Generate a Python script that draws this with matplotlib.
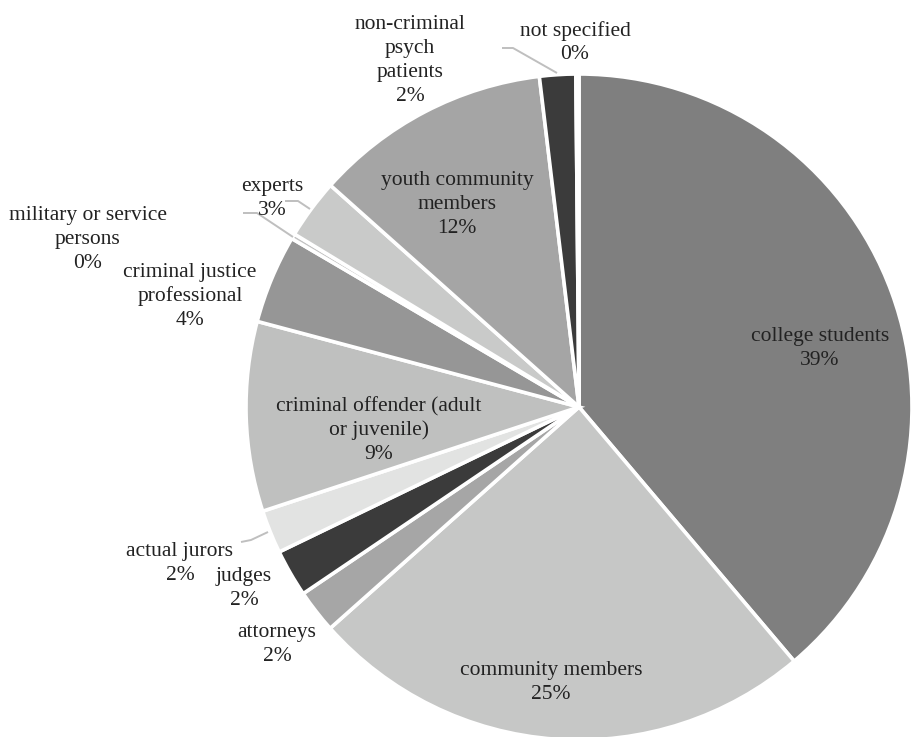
import matplotlib
matplotlib.use("Agg")
import matplotlib.pyplot as plt

categories = ["college students", "community members", "attorneys", "judges",
              "actual jurors", "criminal offender (adult\nor juvenile)",
              "criminal justice\nprofessional", "military or service\npersons",
              "experts", "youth community\nmembers", "non-criminal\npsych\npatients",
              "not specified"]
values = [38.8, 24.6, 2.1, 2.3, 2.1, 9.2, 4.3, 0.25, 2.9, 11.5, 1.75, 0.15]
pct_labels = ["39%", "25%", "2%", "2%", "2%", "9%", "4%", "0%", "3%", "12%", "2%", "0%"]
colors = ["#7f7f7f", "#c6c7c6", "#a6a6a6", "#3b3b3b", "#e2e3e2", "#bfc0bf",
          "#969696", "#c2c2c2", "#c9cac9", "#a5a5a5", "#3b3b3b", "#f0f0f0"]

W, H = 912, 737
fig = plt.figure(figsize=(W / 100, H / 100), dpi=100)
ax = fig.add_axes([0, 0, 1, 1])

cx, cy, R = 579, H - 407, 333
ax.pie(values, colors=colors, startangle=90, counterclock=False,
       center=(cx, cy), radius=R,
       wedgeprops=dict(edgecolor="white", linewidth=2.6))
ax.set_xlim(0, W)
ax.set_ylim(0, H)
ax.set_aspect("equal")
ax.axis("off")

# label positions (image pixel coords, text block centre)
label_pos = [(820, 346), (551, 680), (277, 642), (244, 586), (180, 561),
             (379, 428), (190, 294), (88, 237), (272, 196), (457, 202),
             (410, 58), (575, 40)]
txt_color = "#222222"
line_h = 23.8
for name, pct, (x, y) in zip(categories, pct_labels, label_pos):
    lines = name.split("\n") + [pct]
    n = len(lines)
    for i, line in enumerate(lines):
        yy = y + (i - (n - 1) / 2) * line_h
        ax.text(x, H - yy, line, ha="center", va="center_baseline",
                fontsize=15.5, family=["Liberation Serif", "DejaVu Serif"],
                color=txt_color)

# leader lines (image pixel coords)
leaders = [
    [(241, 542), (251, 540), (268, 532)],   # actual jurors
    [(243, 213), (257, 213), (293, 237)],   # military
    [(285, 201), (298, 201), (310, 209)],   # experts
    [(502, 48), (513, 48), (557, 73)],      # psych / not specified
]
for pts in leaders:
    xs = [p[0] for p in pts]
    ys = [H - p[1] for p in pts]
    ax.plot(xs, ys, color="#bfbfbf", lw=1.4, solid_capstyle="butt")

fig.savefig("out.png", dpi=100)
